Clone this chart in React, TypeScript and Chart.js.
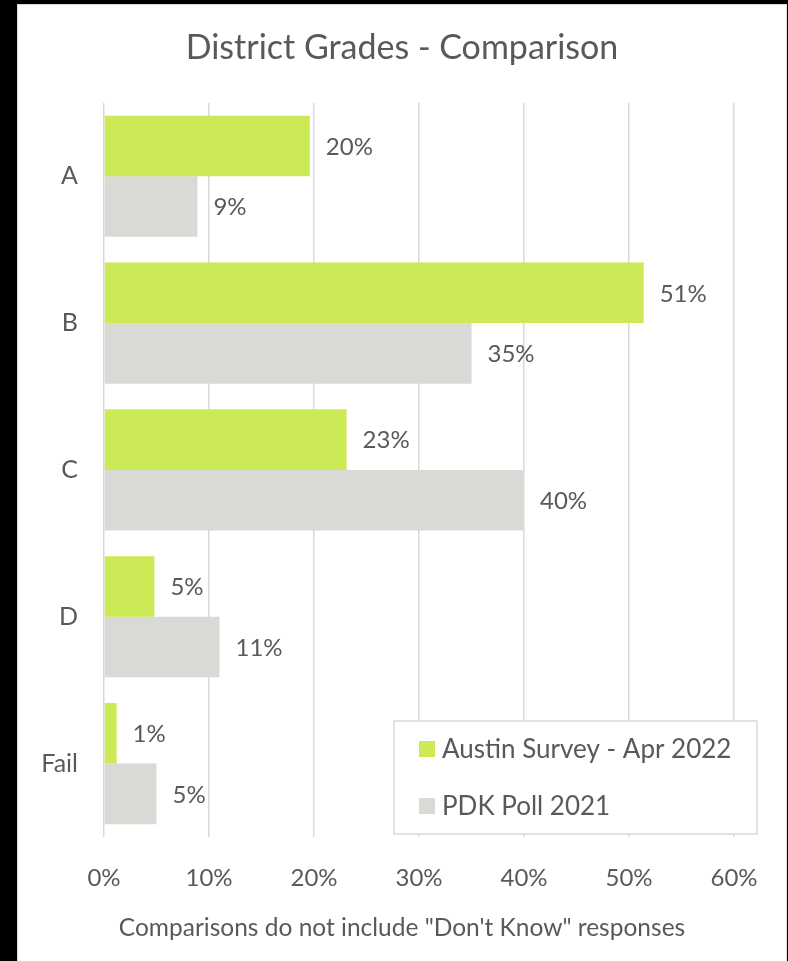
import React, { useEffect, useRef } from "react";
import { Chart, registerables } from "chart.js";

Chart.register(...registerables);

const categories = ["A", "B", "C", "D", "Fail"];
const austinValues = [19.6, 51.4, 23.1, 4.8, 1.2];
const pdkValues = [8.9, 35.0, 40.0, 11.0, 5.0];
const seriesNames = ["Austin Survey - Apr 2022", "PDK Poll 2021"];
const xTicks = [0, 10, 20, 30, 40, 50, 60];
const chartTitle = "District Grades - Comparison";
const footNote = "Comparisons do not include \"Don't Know\" responses";

const FONT = "Lato, 'Open Sans', sans-serif";
const TEXT = "#595959";
const GREEN = "#CBEA55";
const GREY = "#D9D9D6";
const GRID = "#D9D9D9";

const dataLabelPlugin = {
  id: "dataLabels",
  afterDatasetsDraw(chart: any) {
    const ctx = chart.ctx;
    ctx.save();
    ctx.font = `24px ${FONT}`;
    ctx.fillStyle = TEXT;
    ctx.textAlign = "left";
    ctx.textBaseline = "middle";
    chart.data.datasets.forEach((ds: any, i: number) => {
      const meta = chart.getDatasetMeta(i);
      meta.data.forEach((el: any, j: number) => {
        const v = ds.data[j];
        ctx.fillText(Math.round(v) + "%", el.x + 16, el.y + 1);
      });
    });
    ctx.restore();
  },
};

const boxLegendPlugin = {
  id: "boxLegend",
  afterDatasetsDraw(chart: any) {
    const ctx = chart.ctx;
    const area = chart.chartArea;
    const right = area.right + 23;
    const left = right - 363;
    const bottom = area.bottom - 3;
    const top = bottom - 113;
    ctx.save();
    ctx.fillStyle = "#FFFFFF";
    ctx.fillRect(left, top, right - left, bottom - top);
    ctx.strokeStyle = GRID;
    ctx.lineWidth = 1.5;
    ctx.strokeRect(left, top, right - left, bottom - top);
    ctx.font = `26px ${FONT}`;
    ctx.textAlign = "left";
    ctx.textBaseline = "middle";
    chart.data.datasets.forEach((ds: any, i: number) => {
      const cy = top + 28 + i * 57;
      ctx.fillStyle = ds.backgroundColor;
      ctx.fillRect(left + 25, cy - 8, 16, 16);
      ctx.fillStyle = TEXT;
      ctx.fillText(ds.label, left + 48, cy + 1);
    });
    ctx.restore();
  },
};

export default function App() {
  const ref = useRef<HTMLCanvasElement | null>(null);

  useEffect(() => {
    if (!ref.current) return;
    const chart = new Chart(ref.current, {
      type: "bar",
      data: {
        labels: categories,
        datasets: [
          {
            label: seriesNames[0],
            data: austinValues,
            backgroundColor: GREEN,
            categoryPercentage: 0.825,
            barPercentage: 1,
          },
          {
            label: seriesNames[1],
            data: pdkValues,
            backgroundColor: GREY,
            categoryPercentage: 0.825,
            barPercentage: 1,
          },
        ],
      },
      options: {
        indexAxis: "y",
        responsive: false,
        animation: false,
        layout: { padding: { left: 18, right: 2, top: 0, bottom: 0 } },
        plugins: {
          legend: { display: false },
          tooltip: { enabled: false },
          title: {
            display: true,
            text: chartTitle,
            color: TEXT,
            font: { family: FONT, size: 34, weight: "normal" },
            padding: { top: 28, bottom: 34 },
          },
          subtitle: {
            display: true,
            position: "bottom",
            text: footNote,
            color: TEXT,
            font: { family: FONT, size: 24.5, weight: "normal" },
            padding: { top: 0, bottom: 18 },
          },
        },
        scales: {
          x: {
            type: "linear",
            min: xTicks[0],
            max: xTicks[xTicks.length - 1],
            afterBuildTicks: (scale: any) => {
              scale.ticks = xTicks.map((v) => ({ value: v }));
            },
            afterFit: (scale: any) => {
              scale.height = 76.6;
              scale.paddingRight = 54;
            },
            grid: { color: GRID, lineWidth: 1.5, drawTicks: false },
            border: { display: false },
            ticks: {
              color: TEXT,
              font: { family: FONT, size: 24 },
              padding: 27,
              callback: (v: any) => v + "%",
            },
          },
          y: {
            type: "category",
            afterFit: (scale: any) => {
              scale.width = 86;
            },
            grid: { display: false, drawTicks: false },
            border: { display: false },
            ticks: {
              color: TEXT,
              font: { family: FONT, size: 25 },
              padding: 26,
            },
          },
        },
      },
      plugins: [dataLabelPlugin, boxLegendPlugin],
    } as any);
    return () => chart.destroy();
  }, []);

  return (
    <div style={{ position: "fixed", left: 0, top: 0, width: 788, height: 961, background: "#000", overflow: "hidden" }}>
      <div
        style={{
          position: "absolute",
          left: 17,
          top: 4,
          width: 768,
          height: 970,
          background: "#fff",
          border: "1px solid #DADADA",
        }}
      />
      <canvas ref={ref} width={788} height={961} style={{ position: "absolute", left: 0, top: 0, width: 788, height: 961 }} />
    </div>
  );
}
